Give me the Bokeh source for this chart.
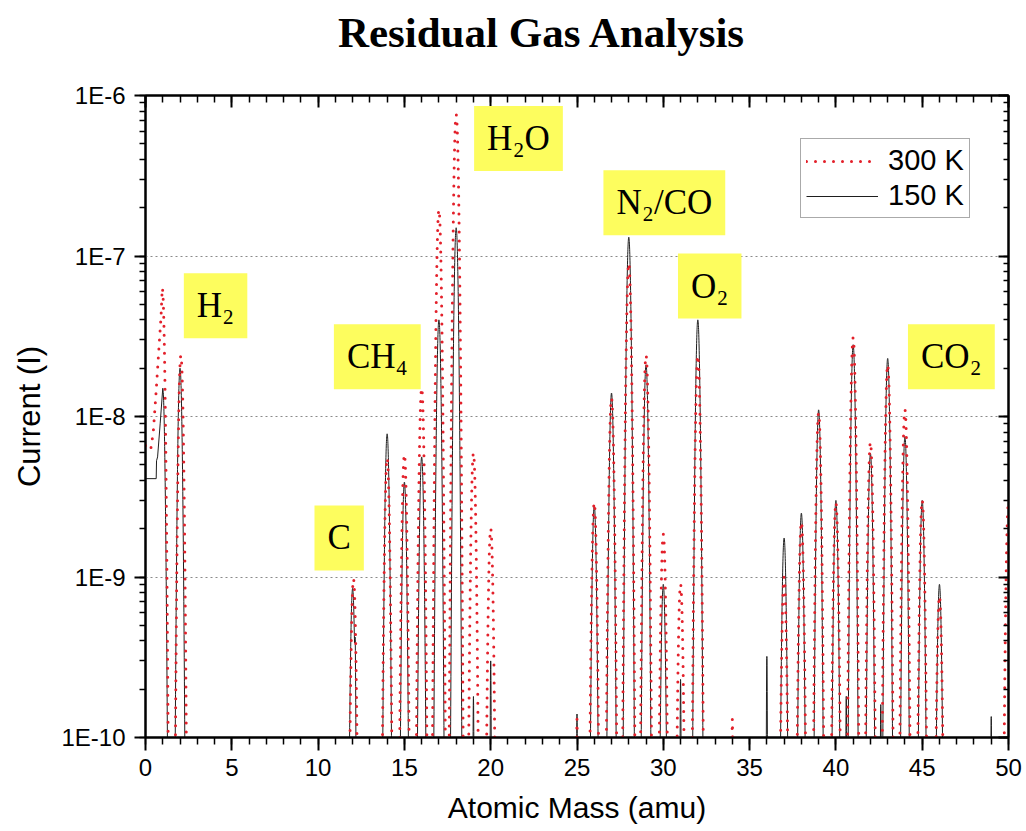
import numpy as np
from bokeh.plotting import figure
from bokeh.layouts import column
from bokeh.models import (LinearAxis, LogAxis, SingleIntervalTicker, LogTicker,
                          CustomJSTickFormatter, Label, Legend, LegendItem, Range1d,
                          ColumnDataSource, Div)
from bokeh.embed import file_html
from bokeh.resources import INLINE

# ---------------- data ----------------
# low-mass leading edge (amu, A)
lead_mass_150 = [0.0, 0.62, 0.64, 0.70, 0.85, 1.0]
lead_cur_150 = [4.1e-9, 4.1e-9, 5.3e-9, 5.6e-9, 9.0e-9, 1.5e-8]
lead_mass_300 = [0.0, 0.30, 0.45, 0.60, 0.75, 0.90, 0.97]
lead_cur_300 = [6.6e-9, 6.2e-9, 8.0e-9, 1.35e-8, 2.4e-8, 4.2e-8, 6.3e-8]

# 150 K peaks
peak_mass_150 = [1.0, 2.0, 12, 14, 15, 16, 17, 18, 26, 27, 28, 29, 30, 32,
                 37, 38, 39, 40, 41, 42, 43, 44, 45, 46]
peak_cur_150 = [1.5e-8, 2.0e-8, 8.5e-10, 7.8e-9, 3.9e-9, 5.6e-9, 4.0e-8, 1.5e-7,
                2.8e-9, 1.4e-8, 1.31e-7, 2.1e-8, 9.0e-10, 4.0e-8,
                1.75e-9, 2.5e-9, 1.1e-8, 3.0e-9, 2.8e-8, 5.9e-9, 2.3e-8, 7.5e-9,
                3.0e-9, 9.0e-10]
spike_mass_150 = [12.15, 19, 20, 25, 31, 36, 40.6, 42.6, 49]
spike_cur_150 = [2.3e-10, 1.8e-10, 3.0e-10, 1.4e-10, 2.3e-10, 3.2e-10, 1.8e-10,
                 1.6e-10, 1.35e-10]

# 300 K peaks
peak_mass_300 = [0.97, 2.05, 12.05, 14, 15, 16, 17, 18, 19, 20, 26, 27, 28, 29,
                 30, 31, 32, 37, 38, 39, 40, 41, 42, 43, 44, 45, 46, 50]
peak_cur_300 = [6.3e-8, 2.4e-8, 9.7e-10, 5.5e-9, 5.8e-9, 1.5e-8, 1.94e-7, 7.6e-7,
                5.9e-9, 2.0e-9, 2.9e-9, 1.3e-8, 9.0e-8, 2.4e-8,
                1.85e-9, 9.0e-10, 2.4e-8, 1.0e-9, 2.2e-9, 1.05e-8, 2.9e-9, 3.1e-8,
                6.9e-9, 2.1e-8, 1.1e-8, 3.0e-9, 7.6e-10, 2.9e-9]
spike_mass_300 = [25, 34]
spike_cur_300 = [1.3e-10, 1.3e-10]

# species labels
label_text = ["H\u2082", "C", "CH\u2084", "H\u2082O", "N\u2082/CO", "O\u2082", "CO\u2082"]
label_mass = [4.06, 11.22, 13.43, 21.61, 30.06, 32.69, 46.69]
label_current = [4.9e-8, 1.75e-9, 2.36e-8, 5.4e-7, 2.15e-7, 6.5e-8, 2.36e-8]

series_names = ["300 K", "150 K"]
title_text = "Residual Gas Analysis"

# ---------------- build curves ----------------
PEAK_SIGMA_150 = 0.085
PEAK_SIGMA_300 = 0.095
SPIKE_SIGMA = 0.02
grid = np.round(np.arange(0.0, 50.0001, 0.005), 4)


def spectrum(lead_m, lead_c, pm, pc, sm, sc, sig):
    xs = grid[grid > lead_m[-1]]
    ys = np.full_like(xs, 1e-14)
    for m, c in zip(pm, pc):
        ys += c * np.exp(-((xs - m) ** 2) / (2 * sig ** 2))
    for m, c in zip(sm, sc):
        ys += c * np.exp(-((xs - m) ** 2) / (2 * SPIKE_SIGMA ** 2))
    return (np.concatenate([np.array(lead_m), xs]),
            np.concatenate([np.array(lead_c), ys]))


x150, y150 = spectrum(lead_mass_150, lead_cur_150, peak_mass_150, peak_cur_150,
                      spike_mass_150, spike_cur_150, PEAK_SIGMA_150)
x300, y300 = spectrum(lead_mass_300, lead_cur_300, peak_mass_300, peak_cur_300,
                      spike_mass_300, spike_cur_300, PEAK_SIGMA_300)

# ---------------- title ----------------
TITLE_H = 66
title_div = Div(text=title_text, width=1026, height=TITLE_H, margin=0,
                styles={"font-family": "'Liberation Serif', serif",
                        "font-weight": "bold", "font-size": "43px",
                        "line-height": f"{TITLE_H}px", "text-align": "center",
                        "padding-left": "56px", "box-sizing": "border-box",
                        "color": "black", "background": "white"})

# ---------------- figure ----------------
p = figure(width=1026, height=831 - TITLE_H, x_range=Range1d(0, 50),
           y_range=Range1d(1e-10, 1e-6), y_axis_type="log", output_backend="svg",
           toolbar_location=None, min_border_left=145, min_border_right=18,
           min_border_top=95 - TITLE_H, min_border_bottom=94, margin=0)
p.background_fill_color = "white"
p.border_fill_color = "white"
p.outline_line_color = "black"
p.outline_line_width = 2

p.xgrid.visible = False
p.ygrid.grid_line_color = "#8a8a8a"
p.ygrid.grid_line_dash = "2 3"
p.ygrid.grid_line_width = 1

xticker = SingleIntervalTicker(interval=5, num_minor_ticks=5)
yticker = LogTicker(num_minor_ticks=10)
yfmt = CustomJSTickFormatter(code="return '1E' + Math.round(Math.log10(tick));")
blank = CustomJSTickFormatter(code="return '';")


def style_axis(ax, inside):
    ax.axis_line_color = "black"
    ax.axis_line_width = 2
    ax.major_tick_line_color = "black"
    ax.minor_tick_line_color = "black"
    ax.major_tick_line_width = 2
    ax.minor_tick_line_width = 1.5
    if inside:
        ax.major_tick_in, ax.major_tick_out = 12, 0
        ax.minor_tick_in, ax.minor_tick_out = 7, 0
    else:
        ax.major_tick_in, ax.major_tick_out = 0, 13
        ax.minor_tick_in, ax.minor_tick_out = 0, 7
    ax.major_label_text_font = "Liberation Sans"
    ax.major_label_text_font_size = "24px"
    ax.major_label_text_color = "black"
    ax.axis_label_text_font = "Liberation Sans"
    ax.axis_label_text_font_style = "normal"
    ax.axis_label_text_color = "black"


xa = p.xaxis[0]
xa.ticker = xticker
style_axis(xa, False)
xa.major_label_standoff = 8
xa.axis_label = "Atomic Mass (amu)"
xa.axis_label_text_font_size = "30px"
xa.axis_label_standoff = 12

ya = p.yaxis[0]
ya.ticker = yticker
ya.formatter = yfmt
style_axis(ya, False)
ya.major_tick_out = 11
ya.minor_tick_out = 6
ya.major_label_standoff = 9
ya.axis_label = "Current (I)"
ya.axis_label_text_font_size = "31px"
ya.axis_label_standoff = 11

top = LinearAxis(ticker=SingleIntervalTicker(interval=5, num_minor_ticks=5), formatter=blank)
style_axis(top, True)
top.major_label_standoff = 0
p.add_layout(top, "above")

right = LogAxis(ticker=LogTicker(num_minor_ticks=10), formatter=blank)
style_axis(right, True)
right.major_tick_in = 10
right.minor_tick_in = 5
right.major_label_standoff = 0
p.add_layout(right, "right")

src150 = ColumnDataSource(dict(x=x150, y=y150))
src300 = ColumnDataSource(dict(x=x300, y=y300))
r150 = p.line("x", "y", source=src150, line_color="#1e1e1e", line_width=1)
r300 = p.line("x", "y", source=src300, line_color="#e3202a", line_width=3,
              line_dash="0 9", line_cap="round")

legend = Legend(items=[LegendItem(label=series_names[0], renderers=[r300]),
                       LegendItem(label=series_names[1], renderers=[r150])],
                location=(655, 519))
legend.label_text_font = "Liberation Sans"
legend.label_text_font_size = "29px"
legend.label_text_color = "black"
legend.glyph_width = 72
legend.glyph_height = 26
legend.label_height = 26
legend.label_standoff = 10
legend.spacing = 2
legend.padding = 5
legend.margin = 0
legend.border_line_color = "#555555"
legend.border_line_width = 1
legend.background_fill_color = "white"
legend.background_fill_alpha = 1
p.add_layout(legend)

for t, m, c in zip(label_text, label_mass, label_current):
    p.add_layout(Label(x=m, y=c, text=t, text_align="center", text_baseline="middle",
                       text_font="Liberation Serif", text_font_size="35px",
                       text_color="black", background_fill_color="#fdfd5e",
                       background_fill_alpha=1, padding=13))

layout = column(title_div, p, spacing=0, margin=0)
open("out.html", "w").write(file_html(layout, INLINE))
